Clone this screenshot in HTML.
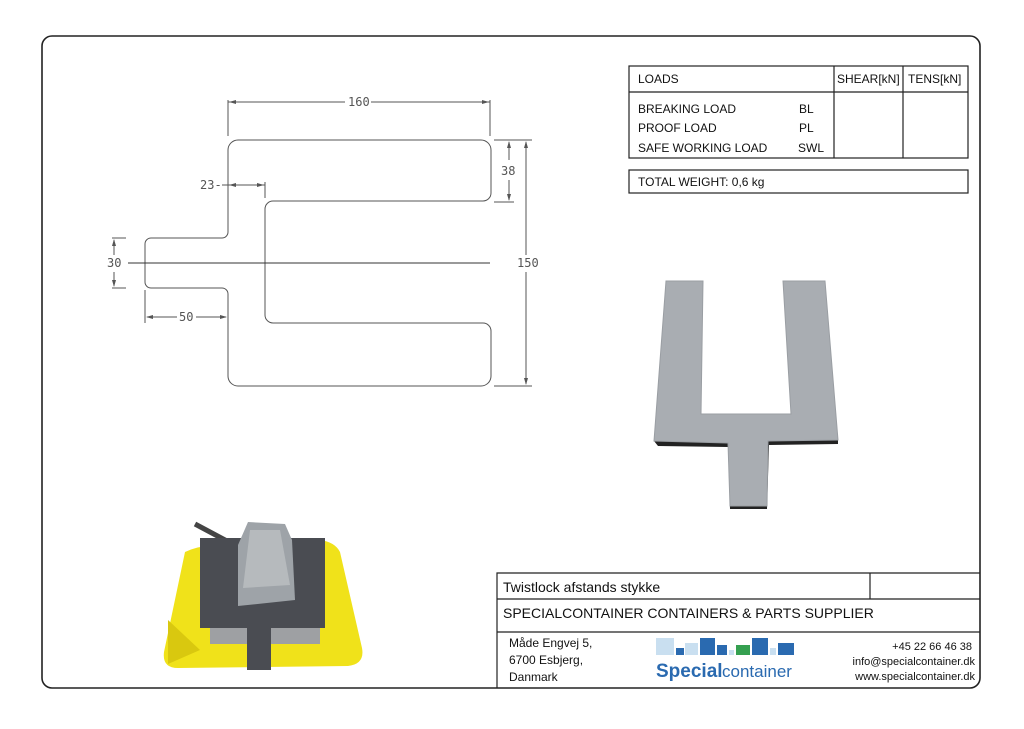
<!DOCTYPE html>
<html><head><meta charset="utf-8"><style>
body{margin:0;background:#fff;width:1024px;height:724px;overflow:hidden;font-family:"Liberation Sans",sans-serif}
</style></head><body>
<svg width="1024" height="724" viewBox="0 0 1024 724" xmlns="http://www.w3.org/2000/svg" font-family="Liberation Sans, sans-serif">
<rect x="42" y="36" width="938" height="652" rx="10" fill="#fff" stroke="#222" stroke-width="1.6"/>
<!-- drawing -->
<g fill="none" stroke="#555" stroke-width="1">
<path d="M238,140 H481 a10,10 0 0 1 10,10 V193 a8,8 0 0 1 -8,8 H273 a8,8 0 0 0 -8,8 V315 a8,8 0 0 0 8,8 H483 a8,8 0 0 1 8,8 V376 a10,10 0 0 1 -10,10 H238 a10,10 0 0 1 -10,-10 V294 a6,6 0 0 0 -6,-6 H151 a6,6 0 0 1 -6,-6 V244 a6,6 0 0 1 6,-6 H222 a6,6 0 0 0 6,-6 V150 a10,10 0 0 1 10,-10 Z"/>
<path d="M128,263 H490" stroke="#333"/>
<path d="M228,136 V100 M490,136 V100 M228,102 H345 M371,102 H490"/>
<path d="M494,140 H532 M494,202 H514 M494,386 H532 M509,142 V160 M509,180 V200 M526,142 V255 M526,272 V384"/>
<path d="M222,185 H265 M265,182 V198"/>
<path d="M112,238 H126 M112,288 H126 M114,240 V255 M114,272 V286"/>
<path d="M145,290 V323 M147,317 H177 M196,317 H226"/>
</g>
<g fill="#555">
<path d="M229,102 l7,-2 v4z M489,102 l-7,-2 v4z M509,141 l-2,7 h4z M509,201 l-2,-7 h4z M526,141 l-2,7 h4z M526,385 l-2,-7 h4z M229,185 l7,-2 v4z M264,185 l-7,-2 v4z M114,239 l-2,7 h4z M114,287 l-2,-7 h4z M146,317 l7,-2 v4z M227,317 l-7,-2 v4z"/>
</g>
<g fill="#555" font-size="12" font-family="DejaVu Sans Mono, Liberation Mono, monospace">
<text x="348" y="106">160</text><text x="501" y="175">38</text><text x="517" y="267">150</text>
<text x="200" y="189">23-</text><text x="107" y="267">30</text><text x="179" y="321">50</text>
</g>
<!-- loads table -->
<g fill="none" stroke="#222" stroke-width="1.2">
<rect x="629" y="66" width="339" height="92"/>
<path d="M629,92 H968 M834,66 V158 M903,66 V158"/>
<rect x="629" y="170" width="339" height="23"/>
</g>
<g font-size="12" fill="#111">
<text x="638" y="83">LOADS</text><text x="837" y="83">SHEAR[kN]</text><text x="908" y="83">TENS[kN]</text>
<text x="638" y="113">BREAKING LOAD</text><text x="799" y="113">BL</text>
<text x="638" y="132">PROOF LOAD</text><text x="799" y="132">PL</text>
<text x="638" y="152">SAFE WORKING LOAD</text><text x="798" y="152">SWL</text>
<text x="638" y="186">TOTAL WEIGHT:   0,6 kg</text>
</g>
<!-- plate photo -->
<path d="M654,441 L658,446 L728,447 L730,509 L767,509 L769,445 L838,444 L838,440 Z" fill="#222"/>
<path d="M666,281 L703,281 L701,414 L791,414 L783,281 L825,281 L838,440 L768,441 L767,506 L730,506 L728,443 L654,441 Z" fill="#a9adb2" stroke="#9a9ea3"/>
<!-- twistlock photo -->
<path d="M185,552 Q200,545 215,546 L320,540 Q335,542 340,552 L362,648 Q365,664 348,666 L178,668 Q162,668 164,652 Z" fill="#f0e21a"/>
<path d="M168,620 L200,650 L168,664 Z" fill="#d9c80f"/>
<path d="M195,524 L240,548" stroke="#444" stroke-width="5"/>
<rect x="200" y="538" width="125" height="90" fill="#4a4c52"/>
<rect x="210" y="628" width="110" height="16" fill="#9ea0a3"/>
<rect x="247" y="625" width="24" height="45" fill="#4a4c52"/>
<path d="M238,545 L248,522 L285,524 L292,540 L295,600 L238,606 Z" fill="#9ea3a8"/>
<path d="M250,530 L280,530 L290,585 L243,588 Z" fill="#b6babd"/>
<!-- title block -->
<g fill="none" stroke="#222" stroke-width="1.2">
<path d="M497,688 V573 H980 M497,599 H980 M497,632 H980 M870,573 V599"/>
</g>
<g font-size="14" fill="#111">
<text x="503" y="592">Twistlock afstands stykke</text>
<text x="503" y="618">SPECIALCONTAINER CONTAINERS &amp; PARTS SUPPLIER</text>
</g>
<g font-size="12" fill="#111">
<text x="509" y="647">Måde Engvej 5,</text><text x="509" y="664">6700 Esbjerg,</text><text x="509" y="681">Danmark</text>
<text x="972" y="650" text-anchor="end" font-size="11">+45 22 66 46 38</text>
<text x="975" y="665" text-anchor="end" font-size="11">info@specialcontainer.dk</text>
<text x="975" y="680" text-anchor="end" font-size="11">www.specialcontainer.dk</text>
</g>
<g>
<rect x="656" y="638" width="18" height="17" fill="#c9dff0"/><rect x="676" y="648" width="8" height="7" fill="#2a6ab0"/>
<rect x="685" y="643" width="13" height="12" fill="#c9dff0"/><rect x="700" y="638" width="15" height="17" fill="#2a6ab0"/>
<rect x="717" y="645" width="10" height="10" fill="#2a6ab0"/><rect x="729" y="650" width="5" height="5" fill="#c9dff0"/>
<rect x="736" y="645" width="14" height="10" fill="#35a050"/><rect x="752" y="638" width="16" height="17" fill="#2a6ab0"/>
<rect x="770" y="648" width="6" height="7" fill="#c9dff0"/><rect x="778" y="643" width="16" height="12" fill="#2a6ab0"/>
<text x="656" y="677" font-size="19" font-weight="bold" fill="#2a6ab0">Special</text>
<text x="722" y="677" font-size="17" fill="#2a6ab0">container</text>
</g>
</svg>
</body></html>
